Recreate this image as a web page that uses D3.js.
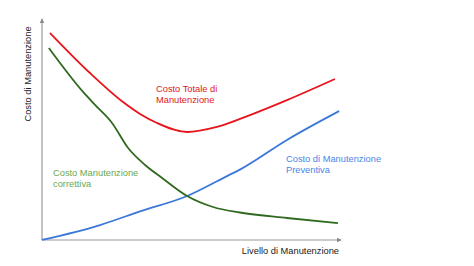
<!doctype html>
<html>
  <head>
    <script src="https://d3js.org/d3.v7.min.js"></script>
    <style>
      body { margin: 0; background: #fff; }
      text { font-family: "Liberation Sans", Arial, sans-serif; }
    </style>
  </head>
  <body>
    <svg id="chart" width="474" height="266"></svg>
    <script>
      // livello di manutenzione (x) / costo (y), letti a occhio dal grafico
      var totaleX = [0.27, 1.61, 2.72, 3.29, 3.86, 4.87, 5.87, 6.98, 8.22, 9.83];
      var totaleY = [9.41, 7.59, 6.27, 5.73, 5.32, 4.91, 5.14, 5.68, 6.36, 7.32];

      var correttivaX = [0.23, 1.38, 1.78, 2.35, 2.89, 3.46, 4.03, 4.87, 5.74, 6.64, 8.22, 9.93];
      var correttivaY = [8.73, 6.73, 6.14, 5.32, 4.18, 3.41, 2.82, 2.00, 1.50, 1.25, 1.00, 0.77];

      var preventivaX = [0, 1.95, 3.29, 4.87, 6.14, 6.64, 8.22, 9.97];
      var preventivaY = [0, 0.68, 1.30, 2.00, 2.86, 3.20, 4.55, 5.86];

      var svg = d3.select("#chart");
      var x = d3.scaleLinear().domain([0, 10]).range([42, 340]);
      var y = d3.scaleLinear().domain([0, 10]).range([240, 20]);

      svg.append("defs").append("marker")
        .attr("id", "freccia")
        .attr("viewBox", "0 0 6 6").attr("refX", 5).attr("refY", 3)
        .attr("markerWidth", 4).attr("markerHeight", 4)
        .attr("orient", "auto")
        .append("path").attr("d", "M0,0L6,3L0,6Z").attr("fill", "#8c8c8c");

      // assi
      svg.append("line")
        .attr("x1", x(0)).attr("y1", y(0)).attr("x2", x(0)).attr("y2", y(10) - 1)
        .attr("stroke", "#9a9a9a").attr("stroke-width", 1.2)
        .attr("marker-end", "url(#freccia)");
      svg.append("line")
        .attr("x1", x(0)).attr("y1", y(0)).attr("x2", x(10) + 1).attr("y2", y(0))
        .attr("stroke", "#9a9a9a").attr("stroke-width", 1.2)
        .attr("marker-end", "url(#freccia)");

      var line = d3.line()
        .x(function(d){ return x(d[0]); })
        .y(function(d){ return y(d[1]); })
        .curve(d3.curveMonotoneX);

      function serie(xs, ys, col) {
        svg.append("path")
          .datum(d3.zip(xs, ys))
          .attr("d", line)
          .attr("fill", "none")
          .attr("stroke", col)
          .attr("stroke-width", 1.8);
      }
      serie(preventivaX, preventivaY, "#3c78d8");
      serie(correttivaX, correttivaY, "#2f6a1e");
      serie(totaleX, totaleY, "#e8141c");

      function etichetta(px, py, righe, col) {
        var t = svg.append("text").attr("x", px).attr("y", py)
          .attr("fill", col).attr("font-size", 9.3);
        righe.forEach(function(r, i){
          t.append("tspan").attr("x", px).attr("dy", i ? 11 : 0).text(r);
        });
      }
      etichetta(156, 92, ["Costo Totale di", "Manutenzione"], "#e01818");
      etichetta(53, 176, ["Costo Manutenzione", "correttiva"], "#6aa84f");
      etichetta(286, 162, ["Costo di Manutenzione", "Preventiva"], "#4a86e8");

      svg.append("text")
        .attr("x", 339).attr("y", 254)
        .attr("text-anchor", "end").attr("font-size", 9.3).attr("fill", "#222")
        .text("Livello di Manutenzione");

      svg.append("text")
        .attr("transform", "translate(31,74) rotate(-90)")
        .attr("text-anchor", "middle").attr("font-size", 9.3).attr("fill", "#222")
        .text("Costo di Manutenzione");
    </script>
  </body>
</html>
